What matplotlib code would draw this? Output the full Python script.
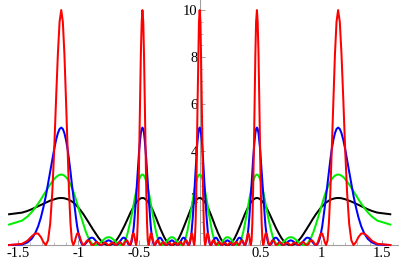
import matplotlib
matplotlib.use("Agg")
import matplotlib.pyplot as plt
from matplotlib.ticker import FixedLocator

plt.rcParams["font.family"] = ["Liberation Serif", "DejaVu Serif"]

# angle theta (radians), shared by all four curves
theta = [
    -1.571, -1.464, -1.420, -1.386, -1.357, -1.332, -1.309, -1.288, -1.268, -1.250, -1.232, -1.215, -1.199, -1.184,
    -1.169, -1.155, -1.141, -1.128, -1.115, -1.102, -1.089, -1.077, -1.065, -1.054, -1.042, -1.031, -1.020, -1.010,
    -0.999, -0.989, -0.978, -0.968, -0.958, -0.948, -0.939, -0.929, -0.920, -0.910, -0.901, -0.892, -0.883, -0.874,
    -0.865, -0.857, -0.848, -0.840, -0.831, -0.823, -0.814, -0.806, -0.798, -0.790, -0.782, -0.774, -0.766, -0.758,
    -0.750, -0.743, -0.735, -0.727, -0.720, -0.712, -0.705, -0.697, -0.690, -0.682, -0.675, -0.668, -0.661, -0.653,
    -0.646, -0.639, -0.632, -0.625, -0.618, -0.611, -0.604, -0.597, -0.591, -0.584, -0.577, -0.570, -0.563, -0.557,
    -0.550, -0.543, -0.537,
    -0.530, -0.524, -0.517, -0.511, -0.504, -0.498, -0.491, -0.485, -0.478, -0.472, -0.465, -0.459, -0.453, -0.447,
    -0.440, -0.434, -0.428, -0.421, -0.415, -0.409, -0.403, -0.397, -0.391, -0.384, -0.378, -0.372, -0.366, -0.360,
    -0.354, -0.348, -0.342, -0.336, -0.330, -0.324, -0.318, -0.312, -0.306, -0.300, -0.294, -0.288, -0.282, -0.276,
    -0.270, -0.264, -0.259,
    -0.253, -0.247, -0.241, -0.235, -0.229, -0.223, -0.218, -0.212, -0.206, -0.200, -0.194, -0.189, -0.183, -0.177,
    -0.171, -0.166, -0.160, -0.154, -0.148, -0.143, -0.137, -0.131, -0.125, -0.120, -0.114, -0.108, -0.102, -0.097,
    -0.091, -0.085, -0.080, -0.074, -0.068, -0.063, -0.057, -0.051, -0.045, -0.040, -0.034, -0.028, -0.023, -0.017,
    -0.011, -0.006,
    0.000,
    0.006, 0.011, 0.017, 0.023, 0.028, 0.034, 0.040, 0.045, 0.051, 0.057, 0.063, 0.068, 0.074, 0.080, 0.085, 0.091,
    0.097, 0.102, 0.108, 0.114, 0.120, 0.125, 0.131, 0.137, 0.143, 0.148, 0.154, 0.160, 0.166, 0.171, 0.177, 0.183,
    0.189, 0.194, 0.200, 0.206, 0.212, 0.218, 0.223, 0.229, 0.235, 0.241, 0.247, 0.253,
    0.259, 0.264, 0.270, 0.276, 0.282, 0.288, 0.294, 0.300, 0.306, 0.312, 0.318, 0.324, 0.330, 0.336, 0.342, 0.348,
    0.354, 0.360, 0.366, 0.372, 0.378, 0.384, 0.391, 0.397, 0.403, 0.409, 0.415, 0.421, 0.428, 0.434, 0.440, 0.447,
    0.453, 0.459, 0.465, 0.472, 0.478, 0.485, 0.491, 0.498, 0.504, 0.511, 0.517, 0.524, 0.530,
    0.537, 0.543, 0.550, 0.557, 0.563, 0.570, 0.577, 0.584, 0.591, 0.597, 0.604, 0.611, 0.618, 0.625, 0.632, 0.639,
    0.646, 0.653, 0.661, 0.668, 0.675, 0.682, 0.690, 0.697, 0.705, 0.712, 0.720, 0.727, 0.735, 0.743, 0.750, 0.758,
    0.766, 0.774, 0.782, 0.790, 0.798, 0.806, 0.814, 0.823, 0.831, 0.840, 0.848, 0.857, 0.865,
    0.874, 0.883, 0.892, 0.901, 0.910, 0.920, 0.929, 0.939, 0.948, 0.958, 0.968, 0.978, 0.989, 0.999, 1.010, 1.020,
    1.031, 1.042, 1.054, 1.065, 1.077, 1.089, 1.102, 1.115, 1.128, 1.141, 1.155, 1.169, 1.184, 1.199, 1.215, 1.232,
    1.250, 1.268, 1.288, 1.309, 1.332, 1.357, 1.386, 1.420, 1.464, 1.571,
]

# intensity for N = 2 slits (black)
intensity_n2 = [
    1.31, 1.38, 1.45, 1.52, 1.59, 1.65, 1.71, 1.76, 1.81, 1.85, 1.89, 1.92, 1.95, 1.97, 1.99, 2.00,
    2.00, 2.00, 1.99, 1.97, 1.95, 1.92, 1.89, 1.85, 1.81, 1.76, 1.71, 1.65, 1.59, 1.52, 1.45, 1.38, 1.31, 1.23, 1.16, 1.08, 1.00, 0.92, 0.84, 0.77, 0.69, 0.62, 0.55, 0.48, 0.41, 0.35, 0.29, 0.24, 0.19, 0.15, 0.11, 0.08, 0.05, 0.03, 0.01, 0.00,
    0.00, 0.00, 0.01, 0.03, 0.05, 0.08, 0.11, 0.15, 0.19, 0.24, 0.29, 0.35, 0.41, 0.48, 0.55, 0.62, 0.69, 0.77, 0.84, 0.92, 1.00, 1.08, 1.16, 1.23, 1.31, 1.38, 1.45, 1.52, 1.59, 1.65, 1.71, 1.76, 1.81, 1.85, 1.89, 1.92, 1.95, 1.97, 1.99, 2.00,
    2.00, 2.00, 1.99, 1.97, 1.95, 1.92, 1.89, 1.85, 1.81, 1.76, 1.71, 1.65, 1.59, 1.52, 1.45, 1.38, 1.31, 1.23, 1.16, 1.08, 1.00, 0.92, 0.84, 0.77, 0.69, 0.62, 0.55, 0.48, 0.41, 0.35, 0.29, 0.24, 0.19, 0.15, 0.11, 0.08, 0.05, 0.03, 0.01, 0.00,
    0.00, 0.00, 0.01, 0.03, 0.05, 0.08, 0.11, 0.15, 0.19, 0.24, 0.29, 0.35, 0.41, 0.48, 0.55, 0.62, 0.69, 0.77, 0.84, 0.92, 1.00, 1.08, 1.16, 1.23, 1.31, 1.38, 1.45, 1.52, 1.59, 1.65, 1.71, 1.76, 1.81, 1.85, 1.89, 1.92, 1.95, 1.97, 1.99, 2.00,
    2.00, 2.00, 1.99, 1.97, 1.95, 1.92, 1.89, 1.85, 1.81, 1.76, 1.71, 1.65, 1.59, 1.52, 1.45, 1.38, 1.31, 1.23, 1.16, 1.08, 1.00, 0.92, 0.84, 0.77, 0.69, 0.62, 0.55, 0.48, 0.41, 0.35, 0.29, 0.24, 0.19, 0.15, 0.11, 0.08, 0.05, 0.03, 0.01, 0.00,
    0.00, 0.00, 0.01, 0.03, 0.05, 0.08, 0.11, 0.15, 0.19, 0.24, 0.29, 0.35, 0.41, 0.48, 0.55, 0.62, 0.69, 0.77, 0.84, 0.92, 1.00, 1.08, 1.16, 1.23, 1.31, 1.38, 1.45, 1.52, 1.59, 1.65, 1.71, 1.76, 1.81, 1.85, 1.89, 1.92, 1.95, 1.97, 1.99, 2.00,
    2.00, 2.00, 1.99, 1.97, 1.95, 1.92, 1.89, 1.85, 1.81, 1.76, 1.71, 1.65, 1.59, 1.52, 1.45, 1.38, 1.31, 1.23, 1.16, 1.08, 1.00, 0.92, 0.84, 0.77, 0.69, 0.62, 0.55, 0.48, 0.41, 0.35, 0.29, 0.24, 0.19, 0.15, 0.11, 0.08, 0.05, 0.03, 0.01, 0.00,
    0.00, 0.00, 0.01, 0.03, 0.05, 0.08, 0.11, 0.15, 0.19, 0.24, 0.29, 0.35, 0.41, 0.48, 0.55, 0.62, 0.69, 0.77, 0.84, 0.92, 1.00, 1.08, 1.16, 1.23, 1.31, 1.38, 1.45, 1.52, 1.59, 1.65, 1.71, 1.76, 1.81, 1.85, 1.89, 1.92, 1.95, 1.97, 1.99, 2.00,
    2.00, 2.00, 1.99, 1.97, 1.95, 1.92, 1.89, 1.85, 1.81, 1.76, 1.71, 1.65, 1.59, 1.52, 1.45, 1.38, 1.31,
]

# intensity for N = 3 slits (green)
intensity_n3 = [
    0.87, 1.04, 1.21, 1.39, 1.58, 1.76, 1.94, 2.12, 2.28, 2.44, 2.58, 2.70, 2.81, 2.89, 2.95, 2.99,
    3.00, 2.99, 2.95, 2.89, 2.81, 2.70, 2.58, 2.44, 2.28, 2.12, 1.94, 1.76, 1.58, 1.39, 1.21, 1.04, 0.87, 0.72, 0.57, 0.45, 0.33, 0.24, 0.16, 0.09, 0.05, 0.02, 0.00, 0.00, 0.01, 0.03, 0.06, 0.09, 0.13, 0.17, 0.20, 0.24, 0.27, 0.30, 0.32, 0.33,
    0.33, 0.33, 0.32, 0.30, 0.27, 0.24, 0.20, 0.17, 0.13, 0.09, 0.06, 0.03, 0.01, 0.00, 0.00, 0.02, 0.05, 0.09, 0.16, 0.24, 0.33, 0.45, 0.57, 0.72, 0.87, 1.04, 1.21, 1.39, 1.58, 1.76, 1.94, 2.12, 2.28, 2.44, 2.58, 2.70, 2.81, 2.89, 2.95, 2.99,
    3.00, 2.99, 2.95, 2.89, 2.81, 2.70, 2.58, 2.44, 2.28, 2.12, 1.94, 1.76, 1.58, 1.39, 1.21, 1.04, 0.87, 0.72, 0.57, 0.45, 0.33, 0.24, 0.16, 0.09, 0.05, 0.02, 0.00, 0.00, 0.01, 0.03, 0.06, 0.09, 0.13, 0.17, 0.20, 0.24, 0.27, 0.30, 0.32, 0.33,
    0.33, 0.33, 0.32, 0.30, 0.27, 0.24, 0.20, 0.17, 0.13, 0.09, 0.06, 0.03, 0.01, 0.00, 0.00, 0.02, 0.05, 0.09, 0.16, 0.24, 0.33, 0.45, 0.57, 0.72, 0.87, 1.04, 1.21, 1.39, 1.58, 1.76, 1.94, 2.12, 2.28, 2.44, 2.58, 2.70, 2.81, 2.89, 2.95, 2.99,
    3.00, 2.99, 2.95, 2.89, 2.81, 2.70, 2.58, 2.44, 2.28, 2.12, 1.94, 1.76, 1.58, 1.39, 1.21, 1.04, 0.87, 0.72, 0.57, 0.45, 0.33, 0.24, 0.16, 0.09, 0.05, 0.02, 0.00, 0.00, 0.01, 0.03, 0.06, 0.09, 0.13, 0.17, 0.20, 0.24, 0.27, 0.30, 0.32, 0.33,
    0.33, 0.33, 0.32, 0.30, 0.27, 0.24, 0.20, 0.17, 0.13, 0.09, 0.06, 0.03, 0.01, 0.00, 0.00, 0.02, 0.05, 0.09, 0.16, 0.24, 0.33, 0.45, 0.57, 0.72, 0.87, 1.04, 1.21, 1.39, 1.58, 1.76, 1.94, 2.12, 2.28, 2.44, 2.58, 2.70, 2.81, 2.89, 2.95, 2.99,
    3.00, 2.99, 2.95, 2.89, 2.81, 2.70, 2.58, 2.44, 2.28, 2.12, 1.94, 1.76, 1.58, 1.39, 1.21, 1.04, 0.87, 0.72, 0.57, 0.45, 0.33, 0.24, 0.16, 0.09, 0.05, 0.02, 0.00, 0.00, 0.01, 0.03, 0.06, 0.09, 0.13, 0.17, 0.20, 0.24, 0.27, 0.30, 0.32, 0.33,
    0.33, 0.33, 0.32, 0.30, 0.27, 0.24, 0.20, 0.17, 0.13, 0.09, 0.06, 0.03, 0.01, 0.00, 0.00, 0.02, 0.05, 0.09, 0.16, 0.24, 0.33, 0.45, 0.57, 0.72, 0.87, 1.04, 1.21, 1.39, 1.58, 1.76, 1.94, 2.12, 2.28, 2.44, 2.58, 2.70, 2.81, 2.89, 2.95, 2.99,
    3.00, 2.99, 2.95, 2.89, 2.81, 2.70, 2.58, 2.44, 2.28, 2.12, 1.94, 1.76, 1.58, 1.39, 1.21, 1.04, 0.87,
]

# intensity for N = 5 slits (blue)
intensity_n5 = [
    0.00, 0.02, 0.11, 0.26, 0.49, 0.79, 1.17, 1.61, 2.09, 2.61, 3.13, 3.63, 4.09, 4.47, 4.76, 4.94,
    5.00, 4.94, 4.76, 4.47, 4.09, 3.63, 3.13, 2.61, 2.09, 1.61, 1.17, 0.79, 0.49, 0.26, 0.11, 0.02, 0.00, 0.02, 0.07, 0.13, 0.20, 0.26, 0.30, 0.31, 0.31, 0.28, 0.23, 0.18, 0.13, 0.07, 0.03, 0.01, 0.00, 0.01, 0.03, 0.06, 0.10, 0.14, 0.17, 0.19,
    0.20, 0.19, 0.17, 0.14, 0.10, 0.06, 0.03, 0.01, 0.00, 0.01, 0.03, 0.07, 0.13, 0.18, 0.23, 0.28, 0.31, 0.31, 0.30, 0.26, 0.20, 0.13, 0.07, 0.02, 0.00, 0.02, 0.11, 0.26, 0.49, 0.79, 1.17, 1.61, 2.09, 2.61, 3.13, 3.63, 4.09, 4.47, 4.76, 4.94,
    5.00, 4.94, 4.76, 4.47, 4.09, 3.63, 3.13, 2.61, 2.09, 1.61, 1.17, 0.79, 0.49, 0.26, 0.11, 0.02, 0.00, 0.02, 0.07, 0.13, 0.20, 0.26, 0.30, 0.31, 0.31, 0.28, 0.23, 0.18, 0.13, 0.07, 0.03, 0.01, 0.00, 0.01, 0.03, 0.06, 0.10, 0.14, 0.17, 0.19,
    0.20, 0.19, 0.17, 0.14, 0.10, 0.06, 0.03, 0.01, 0.00, 0.01, 0.03, 0.07, 0.13, 0.18, 0.23, 0.28, 0.31, 0.31, 0.30, 0.26, 0.20, 0.13, 0.07, 0.02, 0.00, 0.02, 0.11, 0.26, 0.49, 0.79, 1.17, 1.61, 2.09, 2.61, 3.13, 3.63, 4.09, 4.47, 4.76, 4.94,
    5.00, 4.94, 4.76, 4.47, 4.09, 3.63, 3.13, 2.61, 2.09, 1.61, 1.17, 0.79, 0.49, 0.26, 0.11, 0.02, 0.00, 0.02, 0.07, 0.13, 0.20, 0.26, 0.30, 0.31, 0.31, 0.28, 0.23, 0.18, 0.13, 0.07, 0.03, 0.01, 0.00, 0.01, 0.03, 0.06, 0.10, 0.14, 0.17, 0.19,
    0.20, 0.19, 0.17, 0.14, 0.10, 0.06, 0.03, 0.01, 0.00, 0.01, 0.03, 0.07, 0.13, 0.18, 0.23, 0.28, 0.31, 0.31, 0.30, 0.26, 0.20, 0.13, 0.07, 0.02, 0.00, 0.02, 0.11, 0.26, 0.49, 0.79, 1.17, 1.61, 2.09, 2.61, 3.13, 3.63, 4.09, 4.47, 4.76, 4.94,
    5.00, 4.94, 4.76, 4.47, 4.09, 3.63, 3.13, 2.61, 2.09, 1.61, 1.17, 0.79, 0.49, 0.26, 0.11, 0.02, 0.00, 0.02, 0.07, 0.13, 0.20, 0.26, 0.30, 0.31, 0.31, 0.28, 0.23, 0.18, 0.13, 0.07, 0.03, 0.01, 0.00, 0.01, 0.03, 0.06, 0.10, 0.14, 0.17, 0.19,
    0.20, 0.19, 0.17, 0.14, 0.10, 0.06, 0.03, 0.01, 0.00, 0.01, 0.03, 0.07, 0.13, 0.18, 0.23, 0.28, 0.31, 0.31, 0.30, 0.26, 0.20, 0.13, 0.07, 0.02, 0.00, 0.02, 0.11, 0.26, 0.49, 0.79, 1.17, 1.61, 2.09, 2.61, 3.13, 3.63, 4.09, 4.47, 4.76, 4.94,
    5.00, 4.94, 4.76, 4.47, 4.09, 3.63, 3.13, 2.61, 2.09, 1.61, 1.17, 0.79, 0.49, 0.26, 0.11, 0.02, 0.00,
]

# intensity for N = 10 slits (red)
intensity_n10 = [
    0.00, 0.05, 0.18, 0.36, 0.49, 0.49, 0.34, 0.12, 0.00, 0.20, 0.92, 2.24, 4.09, 6.18, 8.12, 9.50,
    10.00, 9.50, 8.12, 6.18, 4.09, 2.24, 0.92, 0.20, 0.00, 0.12, 0.34, 0.49, 0.49, 0.36, 0.18, 0.05, 0.00, 0.04, 0.12, 0.19, 0.20, 0.16, 0.09, 0.02, 0.00, 0.02, 0.07, 0.11, 0.13, 0.10, 0.06, 0.02, 0.00, 0.02, 0.05, 0.09, 0.10, 0.09, 0.05, 0.01,
    0.00, 0.01, 0.05, 0.09, 0.10, 0.09, 0.05, 0.02, 0.00, 0.02, 0.06, 0.10, 0.13, 0.11, 0.07, 0.02, 0.00, 0.02, 0.09, 0.16, 0.20, 0.19, 0.12, 0.04, 0.00, 0.05, 0.18, 0.36, 0.49, 0.49, 0.34, 0.12, 0.00, 0.20, 0.92, 2.24, 4.09, 6.18, 8.12, 9.50,
    10.00, 9.50, 8.12, 6.18, 4.09, 2.24, 0.92, 0.20, 0.00, 0.12, 0.34, 0.49, 0.49, 0.36, 0.18, 0.05, 0.00, 0.04, 0.12, 0.19, 0.20, 0.16, 0.09, 0.02, 0.00, 0.02, 0.07, 0.11, 0.13, 0.10, 0.06, 0.02, 0.00, 0.02, 0.05, 0.09, 0.10, 0.09, 0.05, 0.01,
    0.00, 0.01, 0.05, 0.09, 0.10, 0.09, 0.05, 0.02, 0.00, 0.02, 0.06, 0.10, 0.13, 0.11, 0.07, 0.02, 0.00, 0.02, 0.09, 0.16, 0.20, 0.19, 0.12, 0.04, 0.00, 0.05, 0.18, 0.36, 0.49, 0.49, 0.34, 0.12, 0.00, 0.20, 0.92, 2.24, 4.09, 6.18, 8.12, 9.50,
    10.00, 9.50, 8.12, 6.18, 4.09, 2.24, 0.92, 0.20, 0.00, 0.12, 0.34, 0.49, 0.49, 0.36, 0.18, 0.05, 0.00, 0.04, 0.12, 0.19, 0.20, 0.16, 0.09, 0.02, 0.00, 0.02, 0.07, 0.11, 0.13, 0.10, 0.06, 0.02, 0.00, 0.02, 0.05, 0.09, 0.10, 0.09, 0.05, 0.01,
    0.00, 0.01, 0.05, 0.09, 0.10, 0.09, 0.05, 0.02, 0.00, 0.02, 0.06, 0.10, 0.13, 0.11, 0.07, 0.02, 0.00, 0.02, 0.09, 0.16, 0.20, 0.19, 0.12, 0.04, 0.00, 0.05, 0.18, 0.36, 0.49, 0.49, 0.34, 0.12, 0.00, 0.20, 0.92, 2.24, 4.09, 6.18, 8.12, 9.50,
    10.00, 9.50, 8.12, 6.18, 4.09, 2.24, 0.92, 0.20, 0.00, 0.12, 0.34, 0.49, 0.49, 0.36, 0.18, 0.05, 0.00, 0.04, 0.12, 0.19, 0.20, 0.16, 0.09, 0.02, 0.00, 0.02, 0.07, 0.11, 0.13, 0.10, 0.06, 0.02, 0.00, 0.02, 0.05, 0.09, 0.10, 0.09, 0.05, 0.01,
    0.00, 0.01, 0.05, 0.09, 0.10, 0.09, 0.05, 0.02, 0.00, 0.02, 0.06, 0.10, 0.13, 0.11, 0.07, 0.02, 0.00, 0.02, 0.09, 0.16, 0.20, 0.19, 0.12, 0.04, 0.00, 0.05, 0.18, 0.36, 0.49, 0.49, 0.34, 0.12, 0.00, 0.20, 0.92, 2.24, 4.09, 6.18, 8.12, 9.50,
    10.00, 9.50, 8.12, 6.18, 4.09, 2.24, 0.92, 0.20, 0.00, 0.12, 0.34, 0.49, 0.49, 0.36, 0.18, 0.05, 0.00,
]

x_ticks = [-1.5, -1, -0.5, 0.5, 1, 1.5]
x_tick_labels = ["-1.5", "-1", "-0.5", "0.5", "1", "1.5"]
x_minor_ticks = [-1.5 + 0.1 * i for i in range(31)]
y_ticks = [2, 4, 6, 8, 10]
y_tick_labels = ["2", "4", "6", "8", "10"]
y_minor_ticks = [0.5 * i for i in range(1, 21)]

series = [
    (intensity_n2, "#000000"),
    (intensity_n3, "#00ee00"),
    (intensity_n5, "#0000ff"),
    (intensity_n10, "#ff0000"),
]

fig = plt.figure(figsize=(3.99, 2.61), dpi=100)
ax = fig.add_axes([0, 0, 1, 1])
for vals, col in series:
    ax.plot(theta, vals, color=col, lw=1.45, zorder=3, solid_joinstyle="round")

ax.set_xlim(-1.646, 1.643)
ax.set_ylim(-0.68, 10.43)
for s in ("top", "right"):
    ax.spines[s].set_visible(False)
ax.spines["left"].set_position(("data", 0))
ax.spines["bottom"].set_position(("data", 0))
ax.spines["bottom"].set_bounds(-1.58, 1.643)
ax.spines["left"].set_bounds(0, 10.43)
for s in ("left", "bottom"):
    ax.spines[s].set_color("#a0a0a0")
    ax.spines[s].set_linewidth(0.8)
    ax.spines[s].set_zorder(1)
ax.xaxis.set_major_locator(FixedLocator(x_ticks))
ax.xaxis.set_minor_locator(FixedLocator(x_minor_ticks))
ax.yaxis.set_major_locator(FixedLocator(y_ticks))
ax.yaxis.set_minor_locator(FixedLocator(y_minor_ticks))
ax.set_xticklabels(x_tick_labels)
ax.set_yticklabels(y_tick_labels)
ax.tick_params(which="both", direction="in", color="#a0a0a0", labelsize=10.5, pad=1.5)
ax.tick_params(which="major", length=3.5, width=0.7)
ax.tick_params(which="minor", length=2, width=0.5)
ax.patch.set_visible(False)
fig.savefig("out.png", dpi=100)
